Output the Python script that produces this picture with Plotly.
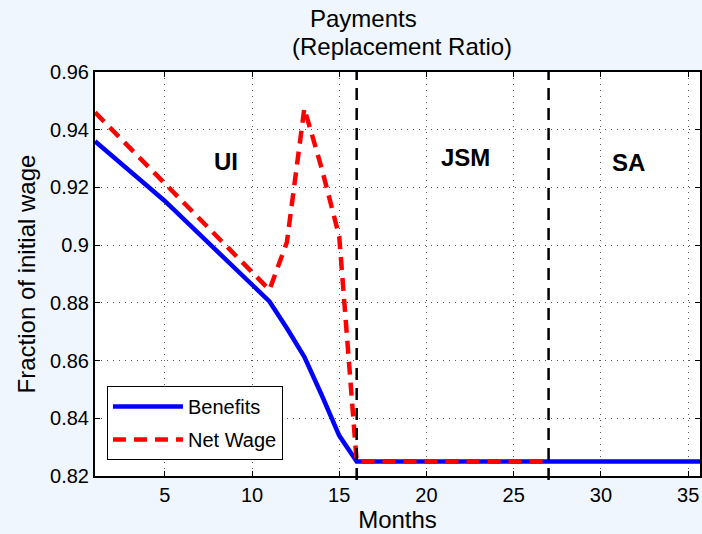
import plotly.graph_objects as go

# ---- data ----
months_benefits = list(range(1, 37))
benefits = [0.936, 0.931, 0.926, 0.9205, 0.9153, 0.9095, 0.9037, 0.8979, 0.8921, 0.8863,
            0.8805, 0.8712, 0.8613, 0.848, 0.834, 0.825] + [0.825] * 20

months_wage = list(range(1, 28))
net_wage = [0.946, 0.9398, 0.9336, 0.9275, 0.9214, 0.915, 0.9088, 0.9026, 0.8964, 0.8903,
            0.8845, 0.901, 0.9474, 0.9265, 0.903, 0.825] + [0.825] * 11

phase_bounds = [16, 27]
phase_labels = ["UI", "JSM", "SA"]
phase_label_x = [8.53, 22.23, 31.59]
phase_label_y = [0.9289, 0.9304, 0.9288]

y_ticks = [0.82, 0.84, 0.86, 0.88, 0.90, 0.92, 0.94, 0.96]
y_ticktext = ["0.82", "0.84", "0.86", "0.88", "0.9", "0.92", "0.94", "0.96"]
x_ticks = [5, 10, 15, 20, 25, 30, 35]

FONT = "Liberation Sans, Arial, sans-serif"
BG = "#eff6fd"

L, R, T, B = 95, 0, 72, 58
PW, PH = 702 - L - R, 534 - T - B

fig = go.Figure()
fig.add_trace(go.Scatter(x=months_benefits, y=benefits, mode="lines", name="Benefits",
                         legendgroup="a",
                         line=dict(color="#0000ff", width=4.5)))
fig.add_trace(go.Scatter(x=months_wage, y=net_wage, mode="lines", name="Net Wage",
                         legendgroup="b",
                         line=dict(color="#ff0000", width=4.5, dash="13px,8px")))

for xb in phase_bounds:
    fig.add_shape(type="line", xref="x", yref="paper", x0=xb, x1=xb, y0=-0.01, y1=1,
                  line=dict(color="black", width=2.5, dash="12px,8px"), layer="above")

for lab, lx, ly in zip(phase_labels, phase_label_x, phase_label_y):
    fig.add_annotation(x=lx, y=ly, text="<b>%s</b>" % lab, showarrow=False,
                       font=dict(family=FONT, size=24, color="black"))

fig.add_annotation(xref="paper", yref="paper", x=(364 - L) / PW, y=(534 - B - 18) / PH,
                   text="Payments", showarrow=False, font=dict(family=FONT, size=24, color="black"),
                   yanchor="middle")
fig.add_annotation(xref="paper", yref="paper", x=(403 - L) / PW, y=(534 - B - 46.5) / PH,
                   text="(Replacement Ratio)", showarrow=False,
                   font=dict(family=FONT, size=24, color="black"), yanchor="middle")

axis_common = dict(showline=True, linecolor="black", linewidth=2, mirror="ticks",
                   ticks="inside", ticklen=5, tickcolor="black", tickwidth=1,
                   showgrid=True, gridcolor="#555", gridwidth=1, griddash="1px,5px",
                   zeroline=False, tickfont=dict(family=FONT, size=20, color="black"))

fig.update_xaxes(range=[1, 35.68], tickvals=x_ticks,
                 title=dict(text="Months", font=dict(family=FONT, size=24, color="black"), standoff=2),
                 **axis_common)
fig.update_yaxes(range=[0.82, 0.96], tickvals=y_ticks, ticktext=y_ticktext,
                 title=dict(text="Fraction of initial wage", font=dict(family=FONT, size=24, color="black"), standoff=8),
                 **axis_common)

fig.update_layout(
    width=702, height=534,
    margin=dict(l=L, r=R, t=T, b=B),
    paper_bgcolor=BG, plot_bgcolor="white",
    showlegend=True,
    legend=dict(x=(107 - L) / PW, y=(534 - B - 386) / PH, xanchor="left", yanchor="top",
                bgcolor="white", bordercolor="black", borderwidth=1,
                font=dict(family=FONT, size=20, color="black"), itemwidth=70,
                tracegroupgap=4),
)

fig.write_html("out.html", config={"displayModeBar": False},
               post_script="document.body.style.margin='0';document.body.style.overflow='hidden';")
